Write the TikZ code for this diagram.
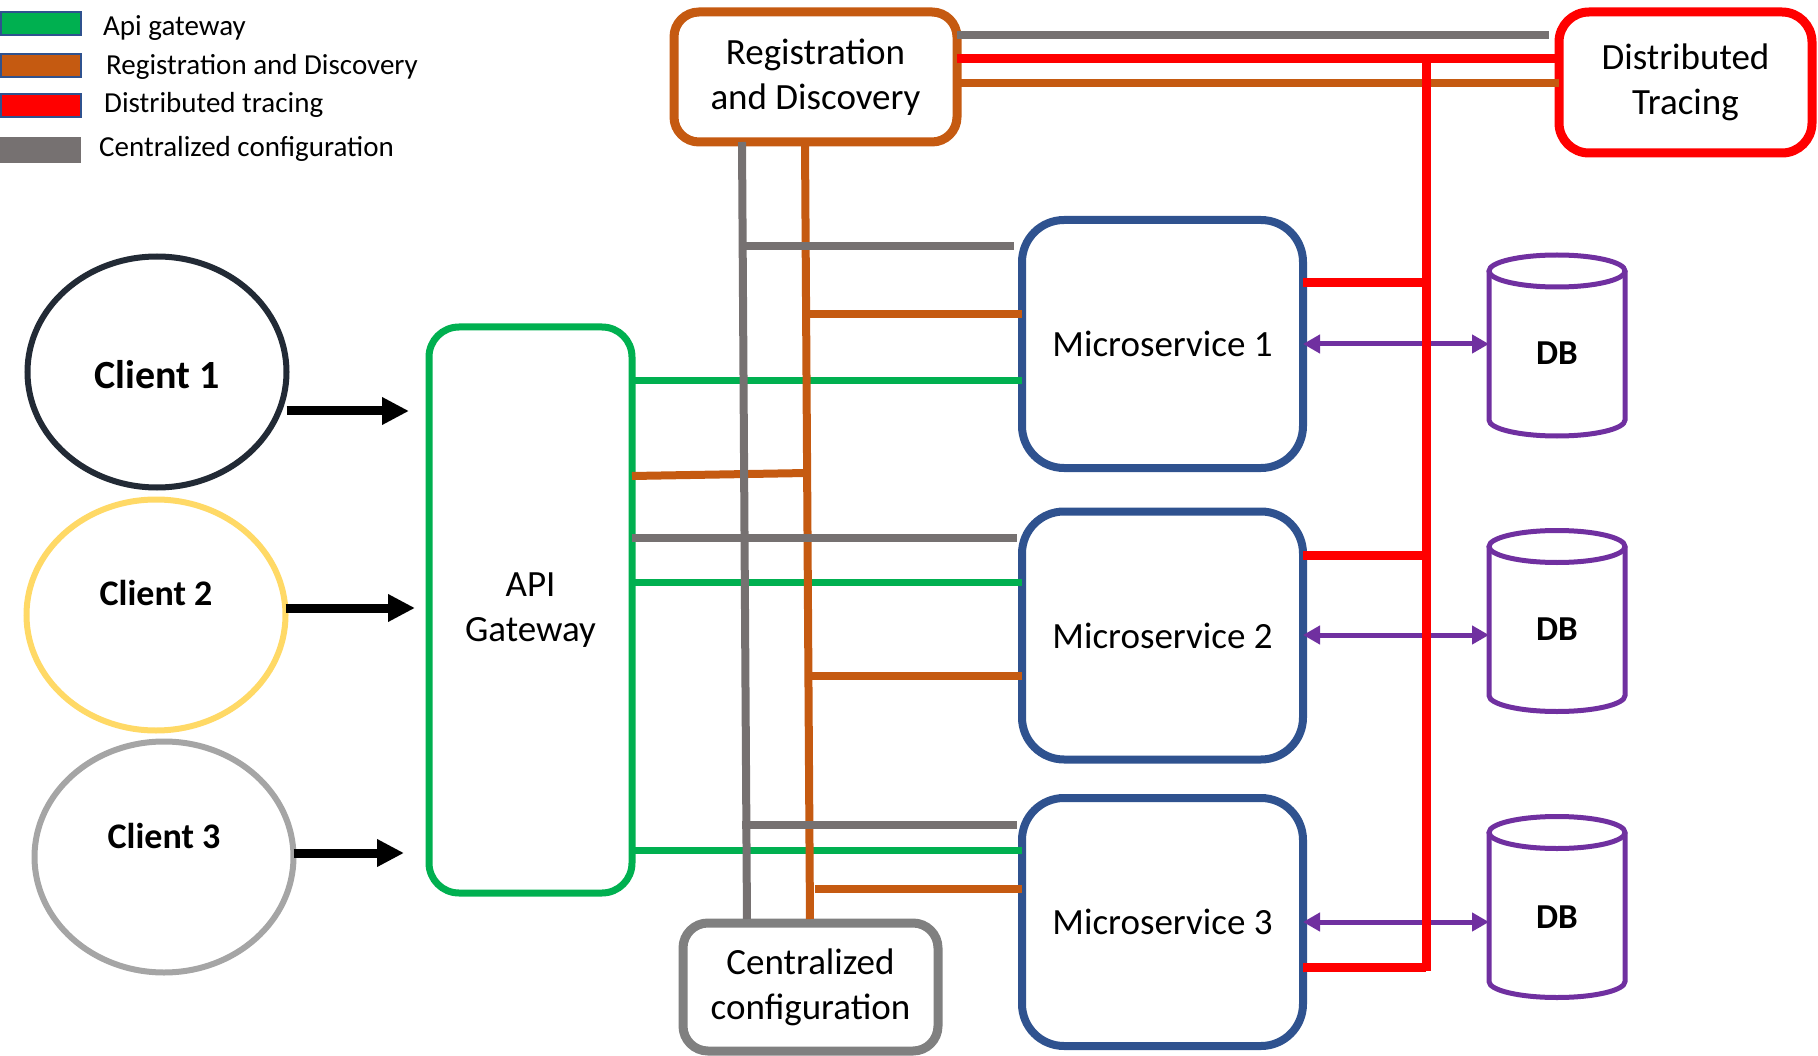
\documentclass[tikz,border=0pt]{standalone}
\usepackage{fontspec}
\setmainfont{Carlito}
\usetikzlibrary{arrows.meta,shapes.geometric}
\definecolor{cgreen}{HTML}{00B050}
\definecolor{corange}{HTML}{C55A11}
\definecolor{cred}{HTML}{FF0000}
\definecolor{cgray}{HTML}{767171}
\definecolor{cblue}{HTML}{2F528F}
\definecolor{cpurple}{HTML}{7030A0}
\definecolor{cdark}{HTML}{222A35}
\definecolor{cyellow}{HTML}{FFD966}
\definecolor{clight}{HTML}{A5A5A5}
\definecolor{cmid}{HTML}{808080}
\begin{document}
\begin{tikzpicture}[x=1pt,y=-1pt,
  box/.style={draw, rounded corners=#1, inner sep=0pt, outer sep=0pt, align=center,
    font=\fontsize{37}{45}\selectfont, fill=white},
  msbox/.style={box=42pt, draw=cblue, line width=8pt, minimum width=281pt, minimum height=248pt},
  client/.style={ellipse, line width=6pt, inner sep=0pt, outer sep=0pt, minimum width=259pt, minimum height=231pt},
  cfont/.style={font=\fontsize{36}{44}\selectfont\bfseries, inner sep=0pt},
  dbshape/.style={inner sep=0pt, outer sep=0pt, minimum width=136pt, minimum height=149pt},
  dbfont/.style={font=\fontsize{35}{42}\selectfont\bfseries, inner sep=0pt},
  dbline/.style={draw=cpurple, line width=5pt},
  legtext/.style={anchor=base west, inner sep=0pt, font=\fontsize{29}{35}\selectfont},
  bigarrow/.style={line width=9pt, -{Triangle[length=27pt,width=26pt]}},
  dbarrow/.style={draw=cpurple, line width=5pt, {Triangle[length=17pt,width=18pt]}-{Triangle[length=17pt,width=18pt]}},
  greenline/.style={draw=cgreen, line width=7pt},
  orangeline/.style={draw=corange, line width=8pt},
  grayline/.style={draw=cgray, line width=8pt},
  redline/.style={draw=cred, line width=9pt},
]
\useasboundingbox (0,0) rectangle (1818,1056);

% legend
\filldraw[fill=cgreen, draw=cblue, line width=2.5pt] (1,12) rectangle (81,35);
\filldraw[fill=corange, draw=cblue, line width=2.5pt] (1,54) rectangle (81,77);
\filldraw[fill=cred, draw=cblue, line width=2.5pt] (1,94) rectangle (81,117);
\fill[cgray] (0,137) rectangle (81,163);
\node[legtext] (l1) at (103,36) {Api gateway};
\node[legtext] (l2) at (106,75) {Registration and Discovery};
\node[legtext] (l3) at (104,113) {Distributed tracing};
\node[legtext] (l4) at (99,157) {Centralized configuration};

% boxes
\node[box=25pt, draw=corange, line width=9pt, minimum width=283pt, minimum height=130pt] (rd) at (815.5,77) {Registration\\and Discovery};
\node[box=30pt, draw=cred, line width=9pt, minimum width=253pt, minimum height=141pt] (dt) at (1685.5,82.5) {Distributed\\Tracing};
\node[box=30pt, draw=cgreen, line width=7pt, minimum width=203pt, minimum height=566pt] (api) at (530.5,610) {API\\Gateway};
\node[box=25pt, draw=cmid, line width=9pt, minimum width=255pt, minimum height=128pt] (cc) at (810.5,987) {Centralized\\configuration};
\node[msbox] (ms1) at (1162.5,344) {Microservice 1};
\node[msbox] (ms2) at (1162.5,635.5) {Microservice 2};
\node[msbox] (ms3) at (1162.5,922) {Microservice 3};

% clients
\node[client, draw=cdark, label={[cfont, font=\fontsize{40}{48}\selectfont\bfseries, yshift=-3pt]center:Client 1}] (c1) at (157,372) {};
\node[client, draw=cyellow, label={[cfont, yshift=22pt]center:Client 2}] (c2) at (156,615) {};
\node[client, draw=clight, label={[cfont, yshift=21pt]center:Client 3}] (c3) at (164,857) {};

% DBs
\foreach \n/\y/\s in {db1/345.5/-7.5, db2/621/-8, db3/907/-10}{
  \node[dbshape, label={[dbfont, yshift=\s pt]center:DB}] (\n) at (1557,\y) {};
  \draw[dbline] (\n.north west) -- (\n.south west) arc[start angle=180, end angle=0, x radius=68, y radius=16] -- (\n.north east);
  \draw[dbline] (\n.north) ellipse[x radius=68, y radius=16];
}

% client arrows
\draw[bigarrow, shorten >=20pt] (c1.east |- 0,411) -- (api.west |- 0,411);
\draw[bigarrow, shorten >=14pt] (c2.east |- 0,608) -- (api.west |- 0,608);
\draw[bigarrow, shorten >=25pt] (c3.east |- 0,853) -- (api.west |- 0,853);

% db arrows
\draw[dbarrow] (ms1.east |- 0,344) -- (db1.west |- 0,344);
\draw[dbarrow] (ms2.east |- 0,635) -- (db2.west |- 0,635);
\draw[dbarrow] (ms3.east |- 0,922) -- (db3.west |- 0,922);

% bus coordinates
\coordinate (gT) at (rd.south -| 742,0);
\coordinate (gB) at (cc.north -| 747,0);
\coordinate (oT) at (rd.south -| 805,0);
\coordinate (oB) at (cc.north -| 810,0);
\coordinate (busT) at (1426,59);
\coordinate (busB) at (1426,971);

% green (api gateway)
\draw[greenline] (api.east |- 0,381) -- (ms1.west |- 0,381);
\draw[greenline] (api.east |- 0,582) -- (ms2.west |- 0,582);
\draw[greenline] (api.east |- 0,850) -- (ms3.west |- 0,850);

% orange (registration and discovery)
\draw[orangeline] (rd.east |- 0,83) -- (dt.west |- 0,83);
\draw[orangeline, shorten >=4pt] (oT) -- (oB);
\draw[orangeline] (oT |- 0,314) -- (ms1.west |- 0,314);
\draw[orangeline] (api.east |- 0,476) -- (807,473);
\draw[orangeline] (oT |- 0,676) -- (ms2.west |- 0,676);
\draw[orangeline] ([xshift=10pt]oT |- 0,889) -- (ms3.west |- 0,889);

% gray (centralized configuration)
\draw[grayline, shorten >=10pt] (rd.east |- 0,35) -- (dt.west |- 0,35);
\draw[grayline, shorten >=4pt] (gT) -- (gB);
\draw[grayline, shorten >=8pt] (gT |- 0,246) -- (ms1.west |- 0,246);
\draw[grayline, shorten >=5pt] (api.east |- 0,538) -- (ms2.west |- 0,538);
\draw[grayline, shorten >=5pt] (gT |- 0,825) -- (ms3.west |- 0,825);

% red (distributed tracing)
\draw[redline] (rd.east |- 0,59) -- (dt.west |- 0,59);
\draw[redline] (busT) -- (busB);
\draw[redline] (ms1.east |- 0,283) -- (busT |- 0,283);
\draw[redline] (ms2.east |- 0,555) -- (busT |- 0,555);
\draw[redline] (ms3.east |- 0,967) -- (busT |- 0,967);
\end{tikzpicture}
\end{document}
